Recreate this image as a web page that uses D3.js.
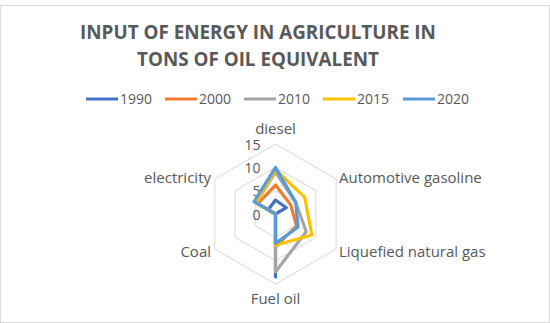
<!DOCTYPE html>
<html><head><meta charset="utf-8">
<script src="https://cdn.jsdelivr.net/npm/d3@7"></script>
<style>body{margin:0;background:#fff}svg{display:block;font-family:"Open Sans","Noto Sans",sans-serif}</style>
</head><body><svg id="c" width="550" height="323"></svg>
<script>
const categories = ["diesel","Automotive gasoline","Liquefied natural gas","Fuel oil","Coal","electricity"];
const years = ["1990","2000","2010","2015","2020"];
const v1990 = [3, 2.7, 0, 13.5, 0, 1.8];
const v2000 = [6.2, 3.8, 5.2, 7, 0, 4.4];
const v2010 = [9, 5, 7.6, 12.4, 0, 4.8];
const v2015 = [9.5, 7.2, 9, 6.7, 0, 4.8];
const v2020 = [10, 5, 5.6, 6.3, 0, 5.3];
const ticks = [0, 5, 10, 15];
const titleLines = ["INPUT OF ENERGY IN AGRICULTURE IN", "TONS OF OIL EQUIVALENT"];

const series = [v1990, v2000, v2010, v2015, v2020];
const colors = ["#4472C4","#ED7D31","#A5A5A5","#FFC000","#5B9BD5"];
const svg = d3.select("#c");
const cx = 275.5, cy = 214;
const r = d3.scaleLinear().domain([0, 15]).range([0, 70]);
const ang = d3.scalePoint().domain(categories).range([0, 2*Math.PI*(categories.length-1)/categories.length]);
const pt = (c, v) => [cx + r(v)*Math.sin(ang(c)), cy - r(v)*Math.cos(ang(c))];

svg.append("rect").attr("x",0.5).attr("y",5.5).attr("width",549).attr("height",317).attr("fill","#fff").attr("stroke","#d9d9d9");

// title
const tw = [356, 242];
titleLines.forEach((t,i)=>{
  const el = svg.append("text").attr("x",258).attr("y",[39,66][i]).attr("text-anchor","middle")
    .attr("font-size",20).attr("font-weight","bold").attr("fill","#595959").text(t);
  const w = el.node().getComputedTextLength();
  el.attr("font-size", 20*tw[i]/w);
});

// legend
const lx = [86,165,244,323,403];
years.forEach((y,i)=>{
  svg.append("line").attr("x1",lx[i]).attr("x2",lx[i]+32).attr("y1",99).attr("y2",99).attr("stroke",colors[i]).attr("stroke-width",3);
  svg.append("text").attr("x",lx[i]+34).attr("y",104).attr("font-size",14).attr("fill","#595959").text(y);
});

// grid
const line = d3.line().curve(d3.curveLinearClosed);
ticks.filter(t=>t>0).forEach(t=>{
  svg.append("path").attr("d", line(categories.map(c=>pt(c,t)))).attr("fill","none").attr("stroke","#d9d9d9").attr("stroke-width",1);
});

// tick labels
ticks.forEach(t=>{
  svg.append("text").attr("x",cx-15).attr("y",cy - r(t)+5.5).attr("text-anchor","end").attr("font-size",14).attr("fill","#595959").text(t);
});

// category labels
const labPos = {
  "diesel":[cx, 134, "middle"],
  "Automotive gasoline":[339, 183, "start"],
  "Liquefied natural gas":[339, 257, "start"],
  "Fuel oil":[cx, 304, "middle"],
  "Coal":[211, 257, "end"],
  "electricity":[211, 183, "end"]
};
categories.forEach(c=>{
  const p = labPos[c];
  svg.append("text").attr("x",p[0]).attr("y",p[1]).attr("text-anchor",p[2]).attr("font-size",15).attr("fill","#595959").text(c);
});

// series
series.forEach((s,i)=>{
  svg.append("path").attr("d", line(categories.map((c,j)=>pt(c,s[j]))))
    .attr("fill","none").attr("stroke",colors[i]).attr("stroke-width",3.2).attr("stroke-linejoin","round");
});
</script></body></html>
